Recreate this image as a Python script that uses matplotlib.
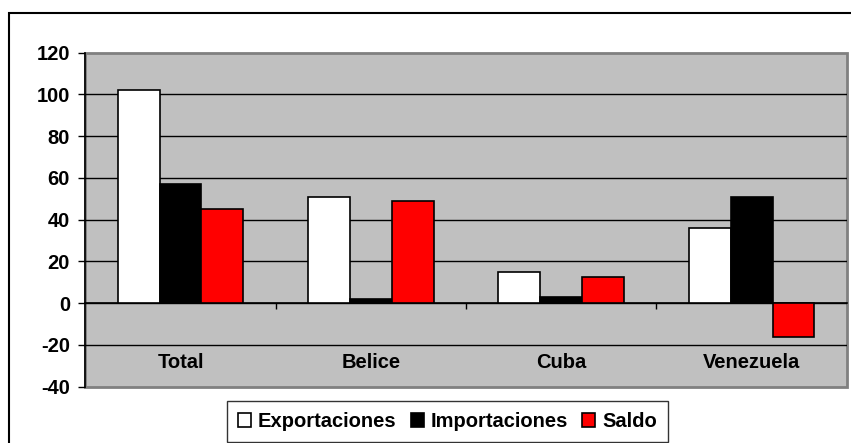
import numpy as np
import matplotlib
matplotlib.use("Agg")
import matplotlib.pyplot as plt
from matplotlib.patches import Rectangle

# data
categories = ["Total", "Belice", "Cuba", "Venezuela"]
exportaciones = [102, 51, 15, 36]
importaciones = [57, 2, 3, 51]
saldo = [45, 49, 12.5, -16]
series_names = ["Exportaciones", "Importaciones", "Saldo"]
yticks = [-40, -20, 0, 20, 40, 60, 80, 100, 120]

plt.rcParams['font.family'] = ['Liberation Sans', 'DejaVu Sans']
plt.rcParams['font.weight'] = 'bold'
plt.rcParams['axes.unicode_minus'] = False

fig = plt.figure(figsize=(8.51, 4.43), dpi=100)
ax = fig.add_axes([0.1003, 0.1271, 0.8947, 0.754])

x = np.arange(len(categories))
w = 0.22
ax.bar(x - w, exportaciones, w, color="white", edgecolor="black", linewidth=1.2, zorder=3, label=series_names[0])
ax.bar(x, importaciones, w, color="black", edgecolor="black", linewidth=1.2, zorder=3, label=series_names[1])
ax.bar(x + w, saldo, w, color="#ff0000", edgecolor="black", linewidth=1.2, zorder=3, label=series_names[2])

ax.set_xlim(-0.5, 3.5)
ax.set_ylim(-40, 120)
ax.set_facecolor("#c0c0c0")
ax.patch.set_edgecolor("#808080")
ax.patch.set_linewidth(2)

# gridlines, skipping the top edge
for v in yticks[1:-1]:
    ax.axhline(v, color="black", linewidth=1, zorder=1)

for s in ["top", "right"]:
    ax.spines[s].set_visible(False)
ax.spines["left"].set_color("black")
ax.spines["left"].set_linewidth(1.2)
ax.spines["bottom"].set_position(("data", 0))
ax.spines["bottom"].set_linewidth(1.2)
ax.spines["bottom"].set_zorder(2)

ax.set_yticks(yticks)
ax.tick_params(axis="y", length=5, width=1, pad=6, labelsize=14.5)
ax.set_xticks(x)
ax.set_xticklabels(categories, fontsize=14.5, fontweight="bold")
ax.set_xticks(x[:-1] + 0.5, minor=True)
ax.tick_params(axis="x", which="major", length=0, pad=36)
ax.tick_params(axis="x", which="minor", length=4, width=1, direction="out")

leg = fig.legend(loc="upper left", bbox_to_anchor=(226.7 / 851, 1 - 401 / 443),
                 ncol=3, frameon=True, fancybox=False, edgecolor="black",
                 fontsize=14.5, handlelength=0.65, handleheight=0.65,
                 handletextpad=0.35, columnspacing=0.7, borderpad=0.55,
                 borderaxespad=0)
leg.get_frame().set_linewidth(1)

# outer chart border, cropped on the right and bottom
fig.patches.append(Rectangle((9 / 851, -0.2), 1.2, 1.2 - 13 / 443,
                             transform=fig.transFigure, fill=False,
                             edgecolor="black", linewidth=1.5))

fig.savefig("out.png", dpi=100)
